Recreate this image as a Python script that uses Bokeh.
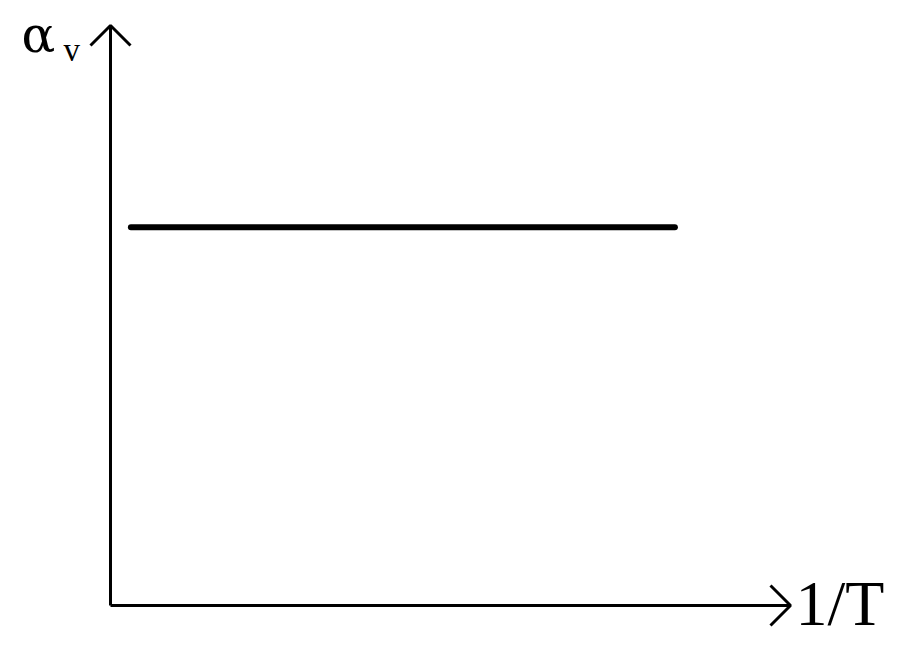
from bokeh.plotting import figure
from bokeh.models import Range1d
from bokeh.core.properties import value
from bokeh.embed import file_html
from bokeh.resources import INLINE

# ---- data ----
one_over_T = [0.03, 0.83]
alpha_v = [0.652, 0.652]
x_label = "1/T"
y_label_main = "α"
y_label_sub = "v"

# ---- layout (pixel geometry of the picture) ----
W, H = 892, 639
X0_PX, X1_PX = 110, 790   # picture x of data x=0 and x=1
Y0_PX, Y1_PX = 605, 25    # picture y of data y=0 and y=1
sx = (X1_PX - X0_PX)
sy = (Y0_PX - Y1_PX)
BASE_SHIFT = 0.38  # measured offset of the rendered baseline, in em

def dx(px):
    return (px - X0_PX) / sx

def dy(py):
    return (Y0_PX - py) / sy

p = figure(width=W, height=H, output_backend="svg", toolbar_location=None,
           x_range=Range1d(dx(0), dx(W)), y_range=Range1d(dy(H), dy(0)),
           min_border=0, min_border_left=0, min_border_right=0,
           min_border_top=0, min_border_bottom=0)
p.axis.visible = False
p.grid.visible = False
p.outline_line_color = None
p.background_fill_color = "white"
p.border_fill_color = "white"

black = "black"
# axes
p.line([0, 1], [0, 0], line_color=black, line_width=3)
p.line([0, 0], [0, 1], line_color=black, line_width=3)
# arrowheads
hl, hw = 20, 20
p.line([1 - hl / sx, 1, 1 - hl / sx], [hw / sy, 0, -hw / sy], line_color=black, line_width=3)
p.line([-hw / sx, 0, hw / sx], [1 - hl / sy, 1, 1 - hl / sy], line_color=black, line_width=3)

# data line
p.line(one_over_T, alpha_v, line_color=black, line_width=6, line_cap="round")

def label(txt, left_px, base_px, size, family="Liberation Serif"):
    p.text(x=[dx(left_px)], y=[dy(base_px - BASE_SHIFT * size)], text=[txt],
           text_font=value(family), text_font_size=f"{size}px", text_color=black,
           text_align="left", text_baseline="alphabetic")

label(y_label_main, 21, 53, 50, "DejaVu Serif")
label(y_label_sub, 63, 62, 33)
label(x_label, 795, 627, 64)

open("out.html", "w").write(file_html(p, INLINE))
